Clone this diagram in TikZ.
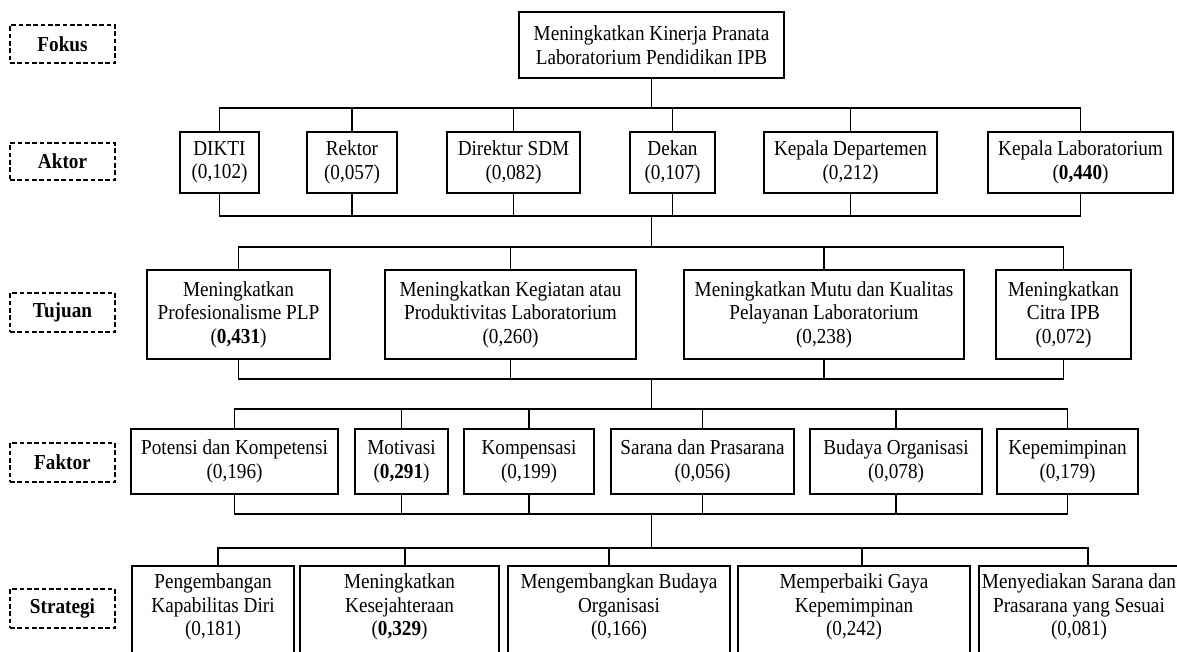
\documentclass[tikz,border=0pt]{standalone}
\usepackage{fontspec}
\setmainfont{Liberation Serif}[FakeStretch=0.9]
\newcommand\mybox[7]{\node[#6, minimum width={(#4-#2)*0.75pt}, minimum height={(#5-#3)*0.75pt}] (#1) at ({(#2+#4)/2},{(#3+#5)/2}) {#7};}
\tikzset{
  box/.style={draw, line width=1.2pt, inner sep=0pt, align=center, font=\fontsize{16}{17.6}\selectfont},
  lbl/.style={draw, dash pattern=on 3.5pt off 2pt, line width=0.9pt, inner sep=0pt, font=\bfseries\fontsize{16}{17.6}\selectfont},
  conn/.style={line width=1.05pt}
}
\begin{document}
\begin{tikzpicture}[x=0.75pt,y=-0.75pt]
\useasboundingbox (0,0) rectangle (1177,652);
\clip (0,0) rectangle (1177,652);
\fill[white] (0,0) rectangle (1177,652);
% level labels
\mybox{lfokus}{10}{25}{115}{63}{lbl}{Fokus}
\mybox{laktor}{10}{143}{115}{180}{lbl}{Aktor}
\mybox{ltujuan}{10}{293}{115}{332}{lbl}{Tujuan}
\mybox{lfaktor}{10}{443}{115}{482}{lbl}{Faktor}
\mybox{lstrategi}{10}{589}{115}{628}{lbl}{Strategi}
% focus
\mybox{top}{519}{12}{784}{78}{box}{Meningkatkan Kinerja Pranata\\Laboratorium Pendidikan IPB}
% actors
\mybox{a1}{180}{132}{259}{193}{box}{DIKTI\\(0,102)}
\mybox{a2}{307}{132}{397}{193}{box}{Rektor\\(0,057)}
\mybox{a3}{447}{132}{580}{193}{box}{Direktur SDM\\(0,082)}
\mybox{a4}{630}{132}{715}{193}{box}{Dekan\\(0,107)}
\mybox{a5}{764}{132}{937}{193}{box}{Kepala Departemen\\(0,212)}
\mybox{a6}{988}{132}{1173}{193}{box}{Kepala Laboratorium\\(\textbf{0,440})}
% goals
\mybox{t1}{147}{270}{330}{359}{box}{Meningkatkan\\Profesionalisme PLP\\(\textbf{0,431})}
\mybox{t2}{385}{270}{636}{359}{box}{Meningkatkan Kegiatan atau\\Produktivitas Laboratorium\\(0,260)}
\mybox{t3}{684}{270}{964}{359}{box}{Meningkatkan Mutu dan Kualitas\\Pelayanan Laboratorium\\(0,238)}
\mybox{t4}{996}{270}{1131}{359}{box}{Meningkatkan\\Citra IPB\\(0,072)}
% factors
\mybox{f1}{131}{429}{338}{494}{box}{Potensi dan Kompetensi\\(0,196)}
\mybox{f2}{355}{429}{448}{494}{box}{Motivasi\\(\textbf{0,291})}
\mybox{f3}{464}{429}{594}{494}{box}{Kompensasi\\(0,199)}
\mybox{f4}{611}{429}{794}{494}{box}{Sarana dan Prasarana\\(0,056)}
\mybox{f5}{810}{429}{982}{494}{box}{Budaya Organisasi\\(0,078)}
\mybox{f6}{997}{429}{1138}{494}{box}{Kepemimpinan\\(0,179)}
% strategies
\mybox{s1}{132}{566}{294}{674}{box}{Pengembangan\\Kapabilitas Diri\\(0,181)\\\strut}
\mybox{s2}{300}{566}{499}{674}{box}{Meningkatkan\\Kesejahteraan\\(\textbf{0,329})\\\strut}
\mybox{s3}{508}{566}{730}{674}{box}{Mengembangkan Budaya\\Organisasi\\(0,166)\\\strut}
\mybox{s4}{738}{566}{970}{674}{box}{Memperbaiki Gaya\\Kepemimpinan\\(0,242)\\\strut}
\mybox{s5}{979}{566}{1179}{674}{box}{Menyediakan Sarana dan\\Prasarana yang Sesuai\\(0,081)\\\strut}
% bar levels
\coordinate (y1) at (0,108);
\coordinate (y2) at (0,216);
\coordinate (y3) at (0,247);
\coordinate (y4) at (0,379);
\coordinate (y5) at (0,409);
\coordinate (y6) at (0,514);
\coordinate (y7) at (0,548);
% focus -> actors
\draw[conn] (top.south) -- (top.south |- y1);
\draw[conn] (a1.north) -- (a1.north |- y1) -- (a6.north |- y1) -- (a6.north);
\foreach \n in {a2,a3,a4,a5} \draw[conn] (\n.north) -- (\n.north |- y1);
\draw[conn] (a1.south) -- (a1.south |- y2) -- (a6.south |- y2) -- (a6.south);
\foreach \n in {a2,a3,a4,a5} \draw[conn] (\n.south) -- (\n.south |- y2);
% actors -> goals
\draw[conn] (top.south |- y2) -- (top.south |- y3);
\draw[conn] (t1.north) -- (t1.north |- y3) -- (t4.north |- y3) -- (t4.north);
\foreach \n in {t2,t3} \draw[conn] (\n.north) -- (\n.north |- y3);
\draw[conn] (t1.south) -- (t1.south |- y4) -- (t4.south |- y4) -- (t4.south);
\foreach \n in {t2,t3} \draw[conn] (\n.south) -- (\n.south |- y4);
% goals -> factors
\draw[conn] (top.south |- y4) -- (top.south |- y5);
\draw[conn] (f1.north) -- (f1.north |- y5) -- (f6.north |- y5) -- (f6.north);
\foreach \n in {f2,f3,f4,f5} \draw[conn] (\n.north) -- (\n.north |- y5);
\draw[conn] (f1.south) -- (f1.south |- y6) -- (f6.south |- y6) -- (f6.south);
\foreach \n in {f2,f3,f4,f5} \draw[conn] (\n.south) -- (\n.south |- y6);
% factors -> strategies
\draw[conn] (top.south |- y6) -- (top.south |- y7);
\coordinate (s1c) at ([xshift=3.75pt]s1.north);
\coordinate (s2c) at ([xshift=4.1pt]s2.north);
\coordinate (s3c) at ([xshift=-7.5pt]s3.north);
\coordinate (s4c) at ([xshift=6pt]s4.north);
\coordinate (s5c) at ([xshift=6.75pt]s5.north);
\draw[conn] (s1c) -- (s1c |- y7) -- (s5c |- y7) -- (s5c);
\foreach \n in {s2c,s3c,s4c} \draw[conn] (\n) -- (\n |- y7);
\end{tikzpicture}
\end{document}
